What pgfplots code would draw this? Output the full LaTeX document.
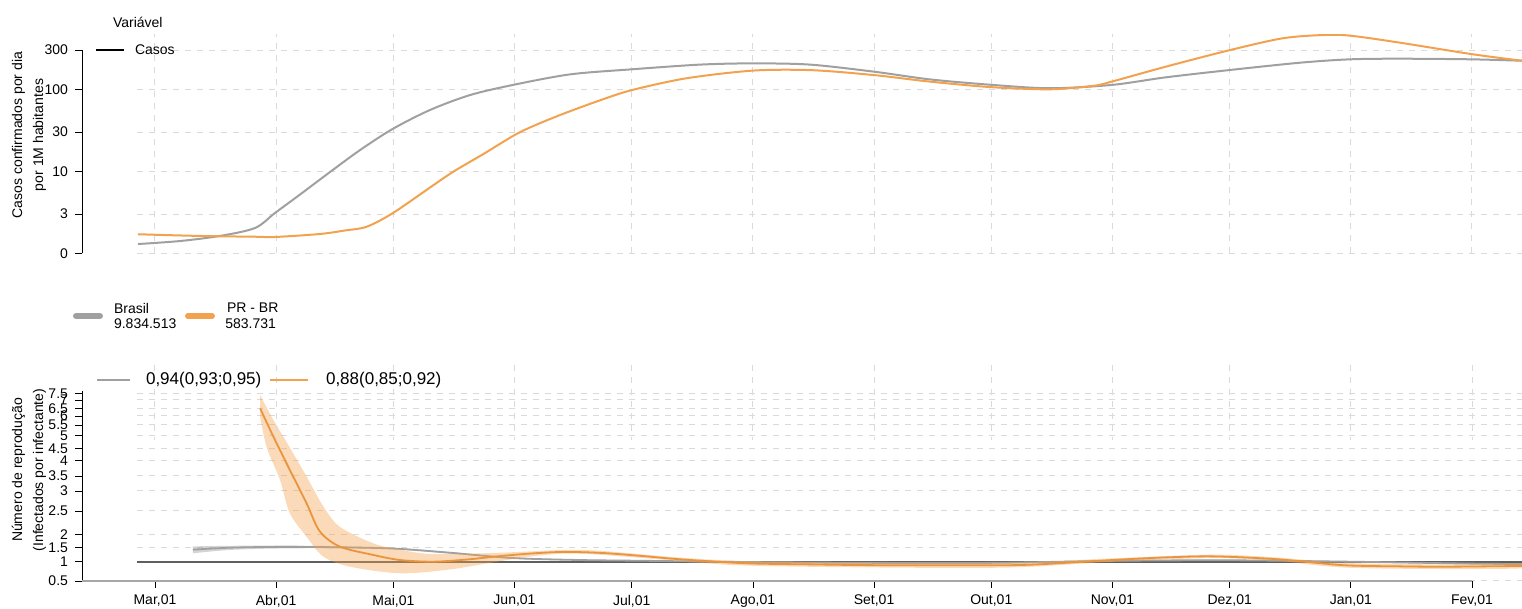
\documentclass[border=0pt]{standalone}
\usepackage{fontspec}
\setmainfont{Liberation Sans}
\usepackage{pgfplots}
\pgfplotsset{compat=1.18}

\definecolor{brgray}{RGB}{160,160,160}
\definecolor{prorange}{RGB}{242,162,78}
\definecolor{prline}{RGB}{234,148,62}
\definecolor{rtone}{RGB}{95,95,95}
\definecolor{gridc}{RGB}{218,218,218}

% reference pixel (x,y) -> picture point, 1px = 0.5pt
\def\px(#1,#2){({(#1-155)*0.5pt},{(253.3-#2)*0.5pt})}

% piecewise scale of the Rt axis (tick spacing of the original)
\newcommand\rtmap[1]{\pgfmathparse{#1<1?(#1-0.5)*38.6:(#1<1.5?19.3+(#1-1)*28:(#1<2?33.3+(#1-1.5)*26.8:(#1<2.5?46.7+(#1-2)*46.6:(#1<3?70+(#1-2.5)*40:(#1<3.5?90+(#1-3)*30:(#1<4?105+(#1-3.5)*30.6:(#1<4.5?120.3+(#1-4)*24.8:(#1<5?132.7+(#1-4.5)*25.2:(#1<5.5?145.3+(#1-5)*21.4:(#1<6?156+(#1-5.5)*18:(#1<6.5?165+(#1-6)*15.4:(#1<7?172.7+(#1-6.5)*16.6:181+(#1-7)*13.4))))))))))))}}

\pgfplotsset{
  panel/.style={
    x=1.954pt,
    xmin=-4.6, xmax=350,
    axis line style={-},
    axis y line*=left, axis y line shift=27.5pt,
    axis x line*=bottom,
    xtick={0,31,61,92,122,153,184,214,245,275,306,337},
    tick align=outside, major tick length=3.5pt,
    tick style={black, line width=0.4pt},
    tick label style={font=\fontsize{7}{8}\selectfont},
    grid style={gridc, dash pattern=on 3pt off 3pt, line width=0.5pt},
  },
}

\begin{document}
\begin{tikzpicture}
\useasboundingbox \px(0,0) rectangle \px(1522,609);

% ---------- top panel: cases per day per 1M ----------
\begin{axis}[panel,
  at={(-9pt,0pt)}, anchor=south west,
  y=41pt, ymin=0, ymax=470,
  y coord trafo/.code={\pgfmathparse{#1<3 ? #1*0.159 : log10(max(#1,0.01))}},
  x axis line style={draw=none}, xticklabels={}, xtick style={draw=none},
  ytick={0,3,10,30,100,300}, yticklabels={0,3,10,30,100,300},
  y axis line style={shorten >=7.9pt},
  xmajorgrids, ymajorgrids,
]
\addplot[brgray, line width=1pt, smooth] coordinates {
  (-4.35,0.71) (6.4,0.94) (16.6,1.33) (25.6,1.94) (30.7,3.1) (37.1,5.2)
  (44.8,9.8) (52.5,18.2) (60.9,33) (70.4,56) (80.6,85) (91.6,113)
  (106.2,152) (121.8,175) (139.5,200) (153,207) (167.6,200) (184,164)
  (198.3,132) (214.4,113) (229,103) (244.8,113) (258.7,140) (275.1,172)
  (293,211) (305.8,232) (318.6,236) (336.8,232) (349.8,223)
};
\addplot[prorange, line width=1pt, smooth] coordinates {
  (-4.35,1.46) (11.5,1.33) (25.6,1.27) (30.7,1.25) (42.2,1.48) (48.6,1.75)
  (54.2,2.04) (60.9,3.1) (71.1,6.7) (76.5,10) (84,16.2) (93.4,30)
  (103.4,48) (114.1,74) (122.1,98) (135.9,136) (153,169) (168.1,171)
  (184,149) (198.3,124) (214.2,106) (229,100) (240,110) (244.8,124)
  (258.7,189) (275.1,301) (288.6,419) (298.9,459) (305.8,451) (318.6,370)
  (336.8,269) (349.8,223)
};
\end{axis}

% ---------- bottom panel: reproduction number ----------
\begin{axis}[panel,
  at={(-9pt,-163.85pt)}, anchor=south west,
  y=0.5pt, ymin=0.5, ymax=7.65,
  y coord trafo/.code={\rtmap{#1}},
  x axis line style={draw=none},
  xticklabels={{Mar,01},{Abr,01},{Mai,01},{Jun,01},{Jul,01},{Ago,01},{Set,01},{Out,01},{Nov,01},{Dez,01},{Jan,01},{Fev,01}},
  ytick={0.5,1,1.5,2,2.5,3,3.5,4,4.5,5,5.5,6,6.5,7,7.5},
  yticklabels={0.5,1,1.5,2,2.5,3,3.5,4,4.5,5,5.5,6,6.5,7,7.5},
  ymajorgrids,
]
\addplot[rtone, line width=1pt] coordinates {(-4.6,1) (350,1)};
% Brasil
\addplot[fill=brgray, fill opacity=0.45, draw=none, smooth] coordinates {
  (9.7,1.55) (19.2,1.57) (30.7,1.58) (44.8,1.56) (60.9,1.5) (75.5,1.35)
  (91.6,1.15) (108.7,1.08) (126.6,1.05) (153,1.01) (184,0.99) (214,0.99)
  (245,1.05) (275,1.07) (306,1.02) (337,0.97) (350,0.96)
  (350,0.92) (337,0.93) (306,0.98) (275,1.03) (245,1.01) (214,0.95)
  (184,0.95) (153,0.97) (126.6,1.01) (108.7,1.04) (91.6,1.11) (75.5,1.29)
  (60.9,1.44) (44.8,1.48) (30.7,1.47) (19.2,1.42) (9.7,1.3)
};
\addplot[brgray, line width=0.9pt, smooth] coordinates {
  (9.7,1.43) (19.2,1.5) (30.7,1.53) (44.8,1.52) (60.9,1.47) (75.5,1.32)
  (91.6,1.13) (108.7,1.06) (126.6,1.03) (153,0.99) (184,0.97) (214,0.97)
  (245,1.03) (275,1.05) (306,1.0) (337,0.95) (350,0.94)
};
% PR
\addplot[fill=prorange, fill opacity=0.4, draw=none, smooth, tension=0.5] coordinates {
  (26.9,7.37) (30.3,5.78) (34.5,4.53) (38.8,3.48) (43.1,2.61) (47.3,2.16)
  (55.9,1.66) (62.7,1.43) (71.1,1.27) (88.3,1.32) (105,1.42) (114.7,1.38)
  (134,1.15) (151,1.02) (185,0.97) (219,0.97) (245,1.12) (270.7,1.25)
  (287,1.15) (304,0.97) (330,0.93) (350,0.95)
  (350,0.83) (330,0.81) (304,0.85) (287,1.03) (270.7,1.13) (245,1.0)
  (219,0.85) (185,0.85) (151,0.9) (134,1.03) (114.7,1.24) (105,1.29)
  (97,1.2) (88.3,1.02) (75.5,0.8) (62.7,0.70) (49.9,0.87) (43.1,1.18)
  (38.8,1.91) (34.5,2.45) (32.0,3.37) (28.6,4.53) (26.9,5.96)
};
\addplot[prline, line width=0.9pt, smooth, tension=0.5] coordinates {
  (26.9,6.5) (30.3,4.96) (34.5,3.70) (38.8,2.69) (42.2,2.06) (47.3,1.54)
  (55.9,1.24) (62.7,1.06) (71.1,1.00) (80,1.08) (88.3,1.20) (97,1.30)
  (105,1.35) (114.7,1.31) (125,1.2) (134,1.09) (151,0.96) (168,0.93)
  (185,0.91) (219,0.91) (233,0.97) (245,1.06) (258,1.15) (270.7,1.19)
  (287,1.09) (304,0.91) (318,0.88) (330,0.87) (350,0.89)
};
\end{axis}

% x axis line of the bottom panel and partial vertical grid
\draw[gray!70, line width=1.2pt] \px(82,581) -- \px(1472,581);
\foreach \d in {0,31,61,92,122,153,184,214,245,275,306,337}
  \draw[gridc, dash pattern=on 3pt off 3pt, line width=0.5pt]
    ({\d*1.954pt},{(253.3-365)*0.5pt}) -- ({\d*1.954pt},{(253.3-440)*0.5pt});

% axis titles
\path \px(29,135) node[rotate=90, align=center, font=\fontsize{7}{10.5}\selectfont]
  {Casos confirmados por dia\\por 1M habitantes};
\path \px(29,470) node[rotate=90, align=center, font=\fontsize{7}{10.5}\selectfont]
  {Número de reprodução\\(Infectados por infectante)};

% top legend
\path \px(106,22) node[anchor=west, font=\fontsize{7}{8}\selectfont] {Variável};
\draw[black, line width=1pt] \px(96,50) -- \px(124,50);
\path \px(128,50) node[anchor=west, font=\fontsize{7}{8}\selectfont] {Casos};

% series legend
\draw[brgray, line width=3pt, line cap=round] \px(76,316) -- \px(100,316);
\draw[prorange, line width=3pt, line cap=round] \px(188,316) -- \px(212,316);
\path \px(107,308) node[anchor=west, font=\fontsize{7}{8}\selectfont] {Brasil};
\path \px(107,324) node[anchor=west, font=\fontsize{7}{8}\selectfont] {9.834.513};
\path \px(220,308) node[anchor=west, font=\fontsize{7}{8}\selectfont] {PR - BR};
\path \px(283,324) node[anchor=east, font=\fontsize{7}{8}\selectfont] {583.731};

% Rt legend
\draw[brgray, line width=1pt] \px(97,380) -- \px(130,380);
\path \px(139,380) node[anchor=west, font=\fontsize{8.5}{10}\selectfont] {0,94(0,93;0,95)};
\draw[prorange, line width=1pt] \px(270,380) -- \px(308,380);
\path \px(319,380) node[anchor=west, font=\fontsize{8.5}{10}\selectfont] {0,88(0,85;0,92)};
\end{tikzpicture}
\end{document}
